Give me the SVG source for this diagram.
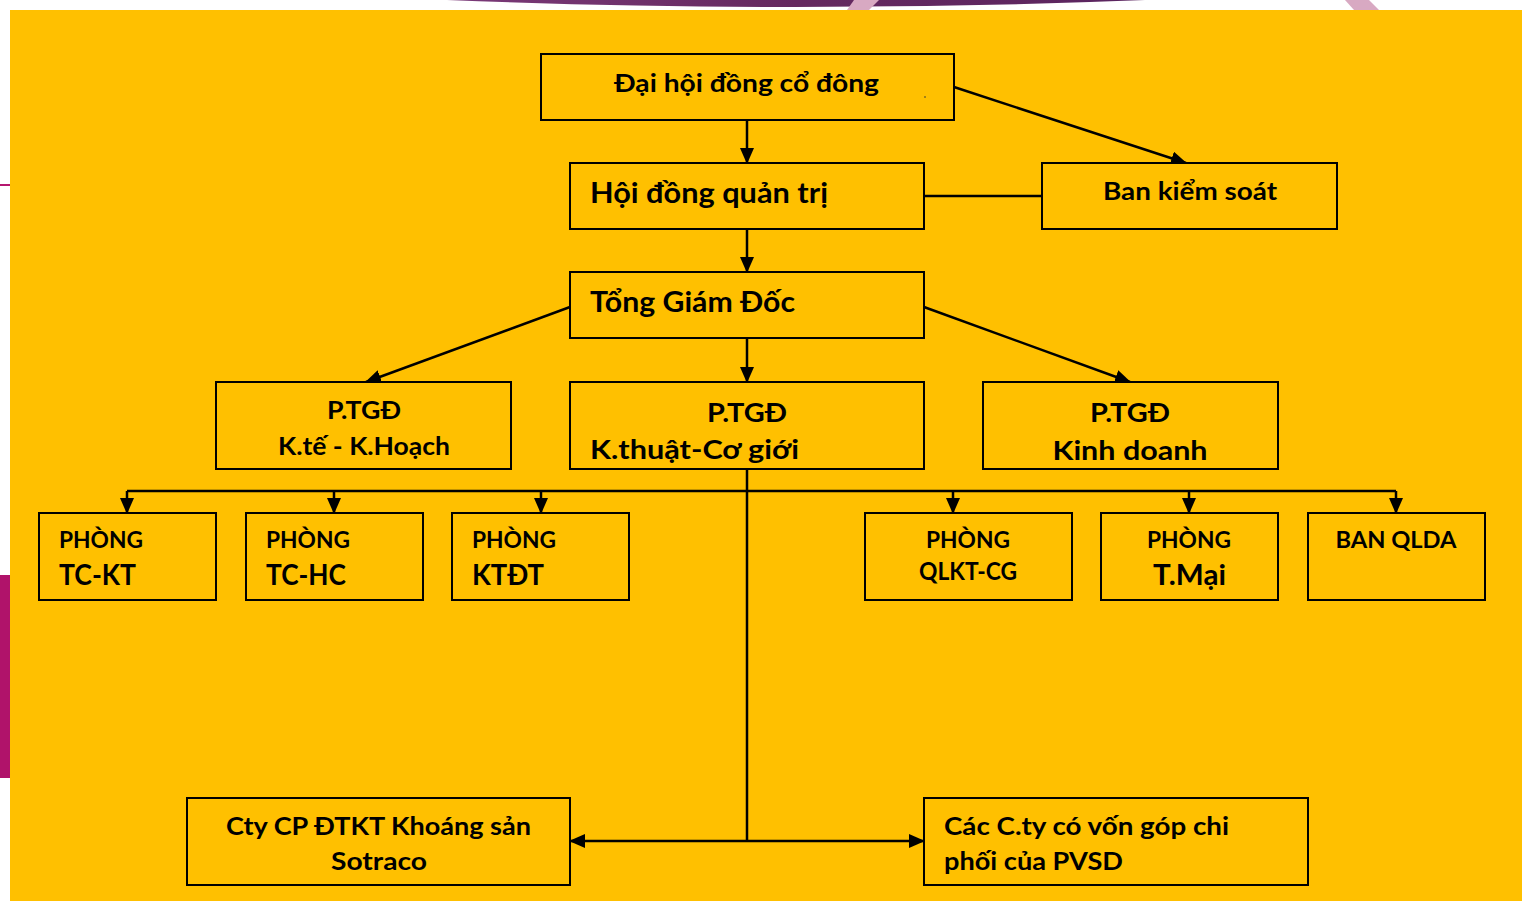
<svg xmlns="http://www.w3.org/2000/svg" width="1522" height="901" viewBox="0 0 1522 901">
<defs>
<style>
.box{fill:#FFC000;stroke:#000;stroke-width:2}
.t{font-family:Lato,"Open Sans","Liberation Sans",sans-serif;font-weight:bold;fill:#000}
.c{text-anchor:middle}
.ln{fill:none;stroke:#000;stroke-width:2.5}
.ar{marker-end:url(#ah)}
</style>
<marker id="ah" markerUnits="userSpaceOnUse" markerWidth="16" markerHeight="14" refX="15" refY="7" orient="auto-start-reverse" viewBox="0 0 16 14">
<path d="M0,0 L16,7 L0,14 z" fill="#000"/>
</marker>
<linearGradient id="pg" x1="0" x2="1" y1="0" y2="0">
<stop offset="0" stop-color="#7a3a78"/>
<stop offset="0.5" stop-color="#65285f"/>
<stop offset="1" stop-color="#5a2560"/>
</linearGradient>
</defs>
<rect x="0" y="0" width="1522" height="901" fill="#fff"/>
<path d="M447,0 Q796,14 1145,0 Z" fill="url(#pg)"/>
<polygon points="854,0 879,0 869,10 847,10" fill="#d8a9c2"/>
<polygon points="1345,0 1369,0 1379,10 1354,10" fill="#d8a9c2"/>
<rect x="0" y="184" width="10" height="2" fill="#b5176e"/>
<rect x="0" y="575" width="10" height="203" fill="#b0136a"/>
<rect x="10" y="10" width="1512" height="891" fill="#FFC000"/>

<g id="connectors">
<line class="ln ar" x1="747" y1="120" x2="747" y2="163"/>
<line class="ln ar" x1="954" y1="87" x2="1186" y2="163"/>
<line class="ln" x1="924" y1="196" x2="1042" y2="196"/>
<line class="ln ar" x1="747" y1="229" x2="747" y2="272"/>
<line class="ln ar" x1="570" y1="307" x2="366" y2="382"/>
<line class="ln ar" x1="924" y1="307" x2="1130" y2="382"/>
<line class="ln ar" x1="747" y1="338" x2="747" y2="382"/>
<line class="ln" x1="747" y1="469" x2="747" y2="841"/>
<polyline class="ln" points="127,491 1396,491"/>
<line class="ln ar" x1="127" y1="491" x2="127" y2="513"/>
<line class="ln ar" x1="334" y1="491" x2="334" y2="513"/>
<line class="ln ar" x1="541" y1="491" x2="541" y2="513"/>
<line class="ln ar" x1="953" y1="491" x2="953" y2="513"/>
<line class="ln ar" x1="1189" y1="491" x2="1189" y2="513"/>
<line class="ln ar" x1="1396" y1="491" x2="1396" y2="513"/>
<line class="ln ar" x1="747" y1="841" x2="570" y2="841"/>
<line class="ln ar" x1="747" y1="841" x2="924" y2="841"/>
</g>

<g id="dhdcd">
<rect class="box" x="541" y="54" width="413" height="66"/>
<text class="t c" x="746.5" y="92" font-size="24" textLength="265" lengthAdjust="spacingAndGlyphs">Đại hội đồng cổ đông</text>
<circle cx="925" cy="97" r="0.8" fill="#333"/>
</g>
<g id="hdqt">
<rect class="box" x="570" y="163" width="354" height="66"/>
<text class="t" x="590" y="203" font-size="28" textLength="238" lengthAdjust="spacingAndGlyphs">Hội đồng quản trị</text>
</g>
<g id="bks">
<rect class="box" x="1042" y="163" width="295" height="66"/>
<text class="t c" x="1190" y="200" font-size="24" textLength="174" lengthAdjust="spacingAndGlyphs">Ban kiểm soát</text>
</g>
<g id="tgd">
<rect class="box" x="570" y="272" width="354" height="66"/>
<text class="t" x="590" y="312" font-size="28" textLength="205" lengthAdjust="spacingAndGlyphs">Tổng Giám Đốc</text>
</g>
<g id="ptgd-kt">
<rect class="box" x="216" y="382" width="295" height="87"/>
<text class="t c" x="364" y="419" font-size="24" textLength="74" lengthAdjust="spacingAndGlyphs">P.TGĐ</text>
<text class="t c" x="364" y="455" font-size="24" textLength="172" lengthAdjust="spacingAndGlyphs">K.tế - K.Hoạch</text>
</g>
<g id="ptgd-ktcg">
<rect class="box" x="570" y="382" width="354" height="87"/>
<text class="t c" x="747" y="422" font-size="26" textLength="80" lengthAdjust="spacingAndGlyphs">P.TGĐ</text>
<text class="t" x="590" y="459" font-size="26" textLength="209" lengthAdjust="spacingAndGlyphs">K.thuật-Cơ giới</text>
</g>
<g id="ptgd-kd">
<rect class="box" x="983" y="382" width="295" height="87"/>
<text class="t c" x="1130" y="422" font-size="26" textLength="80" lengthAdjust="spacingAndGlyphs">P.TGĐ</text>
<text class="t c" x="1130" y="460" font-size="26" textLength="155" lengthAdjust="spacingAndGlyphs">Kinh doanh</text>
</g>
<g id="tckt">
<rect class="box" x="39" y="513" width="177" height="87"/>
<text class="t" x="59" y="548" font-size="22" textLength="84" lengthAdjust="spacingAndGlyphs">PHÒNG</text>
<text class="t" x="59" y="585" font-size="28" textLength="77" lengthAdjust="spacingAndGlyphs">TC-KT</text>
</g>
<g id="tchc">
<rect class="box" x="246" y="513" width="177" height="87"/>
<text class="t" x="266" y="548" font-size="22" textLength="84" lengthAdjust="spacingAndGlyphs">PHÒNG</text>
<text class="t" x="266" y="585" font-size="28" textLength="80" lengthAdjust="spacingAndGlyphs">TC-HC</text>
</g>
<g id="ktdt">
<rect class="box" x="452" y="513" width="177" height="87"/>
<text class="t" x="472" y="548" font-size="22" textLength="84" lengthAdjust="spacingAndGlyphs">PHÒNG</text>
<text class="t" x="472" y="585" font-size="28" textLength="72" lengthAdjust="spacingAndGlyphs">KTĐT</text>
</g>
<g id="qlktcg">
<rect class="box" x="865" y="513" width="207" height="87"/>
<text class="t c" x="968" y="548" font-size="22" textLength="84" lengthAdjust="spacingAndGlyphs">PHÒNG</text>
<text class="t c" x="968" y="580" font-size="24" textLength="98" lengthAdjust="spacingAndGlyphs">QLKT-CG</text>
</g>
<g id="tmai">
<rect class="box" x="1101" y="513" width="177" height="87"/>
<text class="t c" x="1189" y="548" font-size="22" textLength="84" lengthAdjust="spacingAndGlyphs">PHÒNG</text>
<text class="t c" x="1189.5" y="585" font-size="28" textLength="73" lengthAdjust="spacingAndGlyphs">T.Mại</text>
</g>
<g id="banqlda">
<rect class="box" x="1308" y="513" width="177" height="87"/>
<text class="t c" x="1396" y="548" font-size="22" textLength="121" lengthAdjust="spacingAndGlyphs">BAN QLDA</text>
</g>
<g id="sotraco">
<rect class="box" x="187" y="798" width="383" height="87"/>
<text class="t c" x="378.5" y="835" font-size="24" textLength="305" lengthAdjust="spacingAndGlyphs">Cty CP ĐTKT Khoáng sản</text>
<text class="t c" x="379" y="870" font-size="24" textLength="96" lengthAdjust="spacingAndGlyphs">Sotraco</text>
</g>
<g id="pvsd">
<rect class="box" x="924" y="798" width="384" height="87"/>
<text class="t" x="944" y="835" font-size="24" textLength="285" lengthAdjust="spacingAndGlyphs">Các C.ty có vốn góp chi</text>
<text class="t" x="944" y="870" font-size="24" textLength="179" lengthAdjust="spacingAndGlyphs">phối của PVSD</text>
</g>
</svg>
